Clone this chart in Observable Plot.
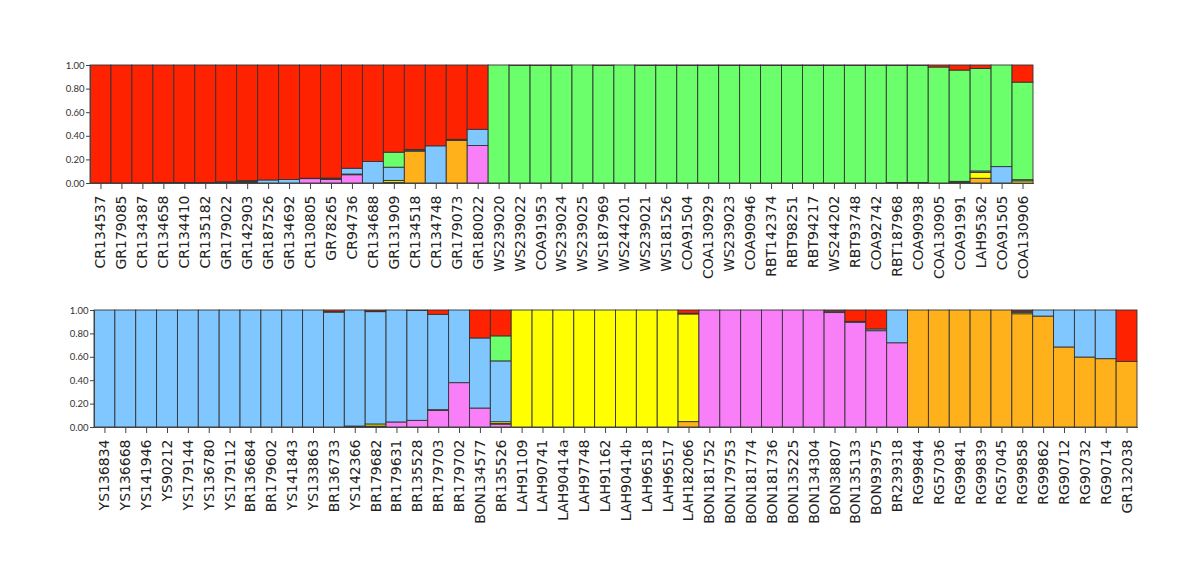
<!DOCTYPE html>
<html>
<head>
<meta charset="utf-8">
<script src="https://cdn.jsdelivr.net/npm/d3@7"></script>
<script src="https://cdn.jsdelivr.net/npm/@observablehq/plot@0.6"></script>
<style>
  html, body { margin: 0; padding: 0; background: #fff; }
  #chart { width: 1200px; height: 584px; overflow: hidden; }
  #chart svg { display: block; }
</style>
</head>
<body>
<div id="chart"></div>
<script>
// Cluster order (bottom to top in each bar) and colours
const clusters = ["K1", "K2", "K3", "K4", "K5", "K6"];
const clusterColors = ["#F97FF9", "#FFB11C", "#FFFF00", "#80C6FF", "#6BFF6B", "#FF2200"];
const yTicks = [0, 0.2, 0.4, 0.6, 0.8, 1.0];

// ---------- Top panel ----------
const topSamples = ["CR134537","GR179085","CR134387","CR134658","CR134410","CR135182","GR179022","GR142903","GR187526","GR134692","CR130805","GR78265","CR94736","CR134688","GR131909","CR134518","CR134748","GR179073","GR180022","WS239020","WS239022","COA91953","WS239024","WS239025","WS187969","WS244201","WS239021","WS181526","COA91504","COA130929","WS239023","COA90946","RBT142374","RBT98251","RBT94217","WS244202","RBT93748","COA92742","RBT187968","COA90938","COA130905","COA91991","LAH95362","COA91505","COA130906"];
// K1 pink, K2 orange, K3 yellow, K4 blue, K5 green, K6 red
const topK1 = [0,0,0,0,0,0,0,0.004,0,0,0.037,0.03,0.07,0,0,0,0,0,0.318, 0,0,0,0,0,0,0,0,0,0,0,0,0,0,0,0,0,0,0,0,0,0,0.004,0,0,0];
const topK2 = [0,0,0,0,0,0,0.004,0.006,0,0,0,0,0,0,0.006,0.27,0,0.36,0, 0,0,0,0,0,0,0,0,0,0,0,0,0,0,0,0,0,0,0,0,0,0,0,0.04,0,0];
const topK3 = [0,0,0,0,0,0,0,0.004,0,0,0,0.004,0.006,0,0.016,0,0,0.004,0, 0,0,0,0,0,0,0,0,0,0,0,0,0,0,0,0,0,0,0,0.004,0.004,0,0.004,0.05,0,0.018];
const topK4 = [0,0,0,0.004,0.004,0.004,0.006,0.006,0.026,0.03,0.004,0.008,0.049,0.182,0.112,0.008,0.315,0.006,0.137, 0,0,0,0,0,0,0,0,0,0,0,0,0,0,0,0,0,0,0,0,0,0,0.006,0.012,0.139,0.01];
const topK5 = [0,0,0,0,0,0,0,0,0,0,0,0,0,0,0.127,0.006,0,0,0, 1,0.997,0.997,0.997,1,0.997,1,0.997,0.997,0.997,0.997,0.997,0.997,0.997,0.997,0.997,0.997,0.997,0.997,0.993,0.993,0.983,0.943,0.868,0.861,0.827];
const topK6 = [1,1,1,0.996,0.996,0.996,0.99,0.98,0.974,0.97,0.959,0.958,0.875,0.818,0.739,0.716,0.685,0.63,0.545, 0,0.003,0.003,0.003,0,0.003,0,0.003,0.003,0.003,0.003,0.003,0.003,0.003,0.003,0.003,0.003,0.003,0.003,0.003,0.003,0.017,0.043,0.03,0,0.145];

// ---------- Bottom panel ----------
const bottomSamples = ["YS136834","YS136668","YS141946","YS90212","YS179144","YS136780","YS179112","BR136684","BR179602","YS141843","YS133863","BR136733","YS142366","BR179682","BR179631","BR135528","BR179703","BR179702","BON134577","BR135526","LAH91109","LAH90741","LAH90414a","LAH97748","LAH91162","LAH90414b","LAH96518","LAH96517","LAH182066","BON181752","BON179753","BON181774","BON181736","BON135225","BON134304","BON38807","BON135133","BON93975","BR239318","RG99844","RG57036","RG99841","RG99839","RG57045","RG99858","RG99862","RG90712","RG90732","RG90714","GR132038"];
const bottomK1 = [0,0,0,0,0,0,0,0,0,0,0,0,0.004,0,0.043,0.057,0.142,0.379,0.162,0.025, 0,0,0,0,0,0,0,0,0, 1,1,1,1,1,1,0.978,0.895,0.823,0.72, 0,0,0,0,0,0,0,0,0,0,0];
const bottomK2 = [0,0,0,0,0,0,0,0,0,0,0,0,0,0.008,0,0,0.006,0,0,0.005, 0,0,0,0,0,0,0,0,0.046, 0,0,0,0,0,0,0,0,0,0, 1,1,1,1,1,0.968,0.948,0.684,0.598,0.584,0.561];
const bottomK3 = [0,0,0,0,0,0,0,0,0,0,0,0,0.004,0.018,0,0,0,0,0,0.015, 1,1,1,1,1,1,1,1,0.92, 0,0,0,0,0,0,0,0,0,0, 0,0,0,0,0,0.012,0,0,0,0,0];
const bottomK4 = [1,1,1,1,1,1,1,1,1,1,1,0.982,0.992,0.96,0.957,0.94,0.815,0.621,0.599,0.52, 0,0,0,0,0,0,0,0,0.006, 0,0,0,0,0,0,0.012,0.008,0.015,0.28, 0,0,0,0,0,0.01,0.052,0.316,0.402,0.416,0];
const bottomK5 = [0,0,0,0,0,0,0,0,0,0,0,0.004,0,0.004,0,0,0,0,0,0.214, 0,0,0,0,0,0,0,0,0, 0,0,0,0,0,0,0,0,0,0, 0,0,0,0,0,0,0,0,0,0,0];
const bottomK6 = [0,0,0,0,0,0,0,0,0,0,0,0.014,0,0.01,0,0.003,0.037,0,0.239,0.221, 0,0,0,0,0,0,0,0,0.028, 0,0,0,0,0,0,0.01,0.097,0.162,0, 0,0,0,0,0,0.01,0,0,0,0,0.439];

function toRows(samples, cols) {
  return samples.flatMap((s, i) =>
    clusters.map((c, k) => ({sample: s, cluster: c, q: cols[k][i]}))
  ).filter(d => d.q > 0);
}

function structurePlot(samples, cols, opts) {
  const data = toRows(samples, cols);
  return Plot.plot({
    width: 1200,
    height: opts.height,
    marginTop: opts.marginTop,
    marginBottom: opts.marginBottom,
    marginLeft: opts.marginLeft,
    marginRight: opts.marginRight,
    style: {fontFamily: "DejaVu Sans", background: "#fff", color: "#222"},
    x: {domain: samples, padding: 0, label: null},
    y: {domain: [0, 1], label: null},
    color: {type: "ordinal", domain: clusters, range: clusterColors},
    marks: [
      Plot.barY(data, {
        x: "sample", y: "q", fill: "cluster", order: clusters,
        stroke: "#333", strokeWidth: 0.9
      }),
      Plot.axisY({
        ticks: yTicks, tickFormat: d3.format(".2f"), tickSize: 4, tickPadding: 2,
        fontSize: 9.5, fontFamily: "Lato", label: null, stroke: "#444", fill: "#333"
      }),
      Plot.frame({anchor: "left", stroke: "#444"}),
      Plot.axisX({
        tickRotate: -90, tickSize: 6, tickPadding: 6, fontSize: 14,
        fontFamily: "DejaVu Sans", label: null, stroke: "#444", fill: "#222"
      }),
      Plot.frame({anchor: "bottom", stroke: "#444"})
    ]
  });
}

const chart = document.getElementById("chart");
chart.append(structurePlot(topSamples,
  [topK1, topK2, topK3, topK4, topK5, topK6],
  {height: 290, marginTop: 65, marginBottom: 107, marginLeft: 90, marginRight: 167}));
chart.append(structurePlot(bottomSamples,
  [bottomK1, bottomK2, bottomK3, bottomK4, bottomK5, bottomK6],
  {height: 294, marginTop: 20, marginBottom: 157, marginLeft: 94, marginRight: 63}));
</script>
</body>
</html>
